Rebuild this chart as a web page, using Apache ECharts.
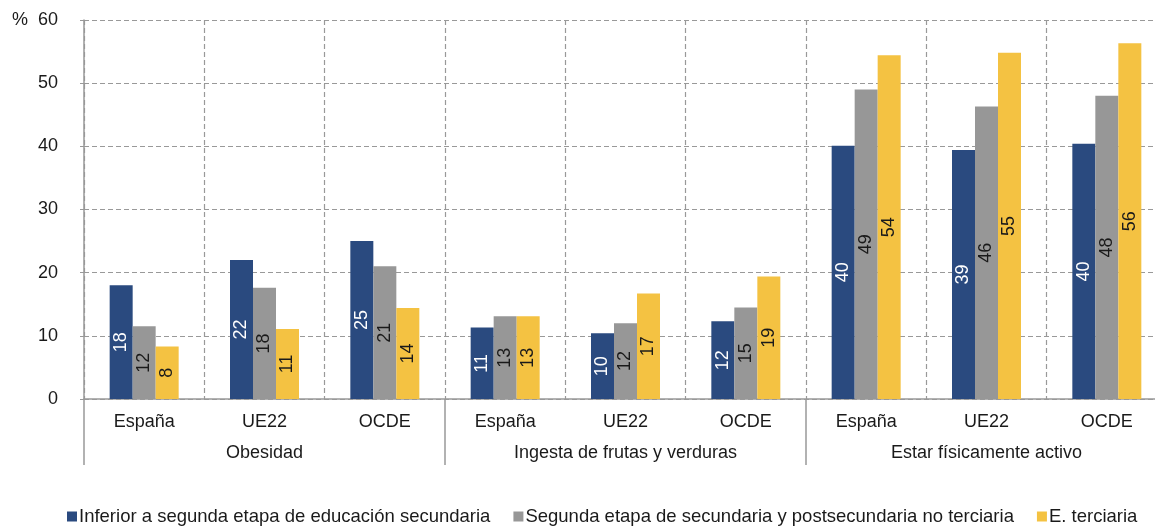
<!DOCTYPE html>
<html>
<head>
<meta charset="utf-8">
<script src="https://cdn.jsdelivr.net/npm/echarts@6/dist/echarts.min.js"></script>
<style>
  html, body { margin: 0; padding: 0; background: #fff; overflow: hidden; }
  /* el grafico original queda recortado por la derecha */
  #main { width: 1167px; height: 527px; }
</style>
</head>
<body>
<div id="main"></div>
<script>
// categorias (paises) y grupos
var paises = ['España', 'UE22', 'OCDE', 'España', 'UE22', 'OCDE', 'España', 'UE22', 'OCDE'];
var grupos = ['Obesidad', 'Ingesta de frutas y verduras', 'Estar físicamente activo'];
var yTicks = [0, 10, 20, 30, 40, 50, 60];

// valores por nivel educativo (%)
var inferior   = [18.0, 22.0, 25.0, 11.3, 10.4, 12.3, 40.1, 39.4, 40.4];
var segunda    = [11.5, 17.6, 21.0, 13.1, 12.0, 14.5, 49.0, 46.3, 48.0];
var terciaria  = [8.3, 11.1, 14.4, 13.1, 16.7, 19.4, 54.4, 54.8, 56.3];

var nombres = [
  'Inferior a segunda etapa de educación secundaria',
  'Segunda etapa de secundaria y postsecundaria no terciaria',
  'E. terciaria'
];
var colores = ['#2a4a7f', '#979797', '#f4c242'];
var colorLabel = ['#ffffff', '#1a1a1a', '#1a1a1a'];

var chart = echarts.init(document.getElementById('main'));
var fuente = 'Liberation Sans, Arial, sans-serif';

function serie(i, datos) {
  return {
    name: nombres[i],
    type: 'bar',
    data: datos,
    barWidth: 23,
    barGap: '0%',
    itemStyle: { color: colores[i] },
    label: {
      show: true,
      position: 'inside',
      rotate: 90,
      color: colorLabel[i],
      fontFamily: fuente,
      fontSize: 18,
      formatter: function (p) { return Math.round(p.value); }
    }
  };
}

var option = {
  animation: false,
  textStyle: { fontFamily: fuente },
  grid: { left: 84, right: 0, top: 20, bottom: 128 },
  graphic: [{
    type: 'text', left: 12, top: 11,
    style: { text: '%', fontSize: 18, fontFamily: fuente, fill: '#1a1a1a' }
  }],
  legend: {
    top: 502, left: 62,
    itemWidth: 10, itemHeight: 10, itemGap: 23,
    icon: 'rect',
    textStyle: { fontSize: 18.5, color: '#1a1a1a', fontFamily: fuente, padding: [0, 0, 0, -3] }
  },
  xAxis: [{
    type: 'category',
    data: paises,
    axisLine: { lineStyle: { color: '#999', width: 1.5 } },
    axisTick: { show: false },
    axisLabel: { interval: 0, fontSize: 18, color: '#1a1a1a', margin: 14 },
    splitLine: { show: true, interval: 0, lineStyle: { color: '#999', type: [5, 3], width: 1.2 } }
  }, {
    type: 'category',
    data: grupos,
    position: 'bottom',
    axisLine: { show: false },
    axisTick: { show: true, interval: 0, length: 66, lineStyle: { color: '#999', width: 1.5 } },
    axisLabel: { interval: 0, fontSize: 18, color: '#1a1a1a', margin: 45 },
    splitLine: { show: false }
  }],
  yAxis: {
    type: 'value',
    min: yTicks[0], max: yTicks[yTicks.length - 1], interval: 10,
    axisLine: { show: true, lineStyle: { color: '#999', width: 1.5 } },
    axisTick: { show: true, length: 4, lineStyle: { color: '#999' } },
    axisLabel: { fontSize: 18, color: '#1a1a1a', margin: 26 },
    splitLine: { lineStyle: { color: '#999', type: [5, 3], width: 1.2 } }
  },
  series: [serie(0, inferior), serie(1, segunda), serie(2, terciaria)]
};

chart.setOption(option);
</script>
</body>
</html>
